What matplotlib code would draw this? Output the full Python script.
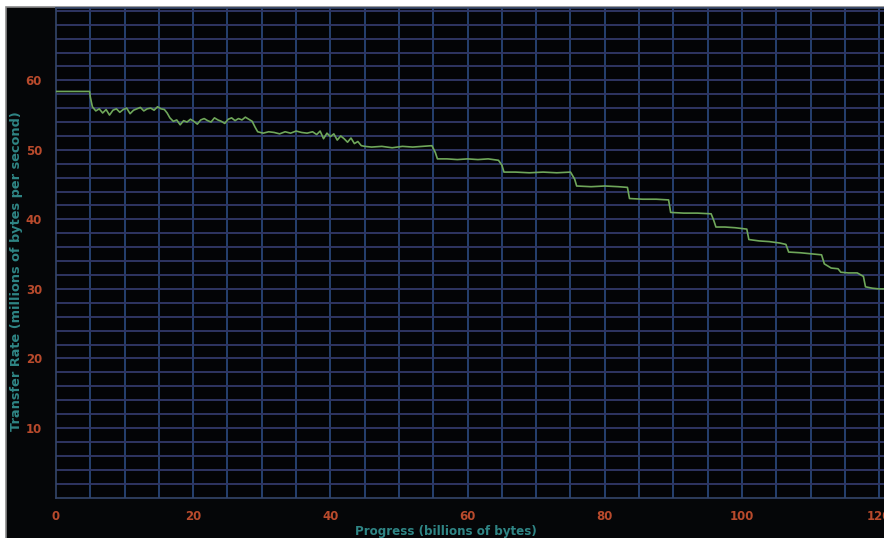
import matplotlib
matplotlib.use("Agg")
import matplotlib.pyplot as plt
from matplotlib.patches import Rectangle

# transfer rate trace (billions of bytes, MB/s)
progress = [
    0.0, 2.0, 4.9, 5.0, 5.3,
    5.8, 6.3, 6.8, 7.3, 7.8, 8.3, 8.8, 9.3, 9.8, 10.3, 10.8, 11.3, 11.8,
    12.3, 12.8, 13.3, 13.8, 14.3, 14.8, 15.3, 15.8, 16.2,
    16.6, 17.1, 17.6, 18.1, 18.6, 19.1, 19.6, 20.1, 20.6, 21.1, 21.6,
    22.1, 22.6, 23.1, 23.6, 24.1, 24.6, 25.1, 25.6, 26.1, 26.6, 27.1,
    27.6, 28.1, 28.6, 29.0,
    29.4, 30.2, 31.0, 31.8, 32.6, 33.4, 34.2, 35.0, 35.8, 36.6, 37.4,
    38.0, 38.5, 39.0, 39.5, 40.0, 40.5, 41.0, 41.5, 42.0, 42.5, 43.0,
    43.5, 44.0, 44.5, 45.0,
    46.0, 47.5, 49.0, 50.5, 52.0, 53.5, 54.8, 55.3, 55.6,
    57.0, 58.5, 60.0, 61.5, 63.0, 64.5, 65.0, 65.3,
    67.0, 69.0, 71.0, 73.0, 75.0, 75.6, 75.9,
    78.0, 80.0, 82.0, 83.3, 83.6,
    85.5, 87.5, 89.3, 89.6,
    91.5, 93.5, 95.5, 95.9, 96.2,
    97.5, 99.0, 100.7, 101.0,
    102.5, 104.0, 105.5, 106.4, 106.8,
    108.5, 110.5, 111.6, 112.0,
    113.0, 114.0, 114.4, 115.5, 116.8, 117.7, 118.0,
    119.0, 120.0, 121.0,
]
rate = [
    58.4, 58.4, 58.4, 57.6, 56.2,
    55.6, 55.9, 55.3, 55.8, 55.0, 55.7, 55.9, 55.4, 55.8, 56.0, 55.2, 55.7, 55.9,
    56.1, 55.6, 55.9, 56.0, 55.7, 56.2, 55.9, 55.8, 55.3,
    54.6, 54.1, 54.3, 53.6, 54.2, 54.0, 54.4, 54.1, 53.7, 54.3, 54.5,
    54.2, 54.0, 54.6, 54.3, 54.1, 53.8, 54.4, 54.6, 54.2, 54.5, 54.3,
    54.7, 54.4, 54.1, 53.3,
    52.6, 52.4, 52.6, 52.5, 52.3, 52.6, 52.4, 52.7, 52.5, 52.4, 52.6,
    52.2, 52.7, 51.6, 52.4, 51.9, 52.3, 51.4, 52.0, 51.6, 51.1, 51.7,
    50.9, 51.2, 50.6, 50.5,
    50.4, 50.5, 50.3, 50.5, 50.4, 50.5, 50.6, 49.6, 48.7,
    48.7, 48.6, 48.7, 48.6, 48.7, 48.5, 47.8, 46.8,
    46.8, 46.7, 46.8, 46.7, 46.8, 45.8, 44.8,
    44.7, 44.8, 44.7, 44.6, 43.0,
    42.9, 42.9, 42.8, 41.0,
    40.9, 40.9, 40.8, 39.8, 38.9,
    38.9, 38.8, 38.6, 37.1,
    36.9, 36.8, 36.6, 36.4, 35.3,
    35.2, 35.0, 34.9, 33.6,
    33.0, 32.9, 32.4, 32.3, 32.3, 31.8, 30.3,
    30.1, 30.0, 30.0,
]

x_ticks = [0, 20, 40, 60, 80, 100, 120]
y_ticks = [10, 20, 30, 40, 50, 60]

W, H = 884, 538
fig = plt.figure(figsize=(W / 100, H / 100), dpi=100, facecolor="white")

# dark panel with thin grey frame, white strip on top/left like the screenshot
panel = Rectangle((6 / W, -0.01), 1.0, 1 - 7 / H + 0.01,
                  transform=fig.transFigure, facecolor="#050608",
                  edgecolor="#8a8a8a", linewidth=1.2, zorder=-5)
fig.patches.append(panel)

ax = fig.add_axes([56 / W, 1 - 497.5 / H, (884 - 56) / W, (497.5 - 8) / H])
ax.set_zorder(2)
ax.set_facecolor("#030406")
ax.set_xlim(0, 120.7)
ax.set_ylim(0, 70.4)

# grid: verticals every 5, horizontals every 2
for gx in range(5, 125, 5):
    ax.axvline(gx, color="#25406e", linewidth=1.4, zorder=1)
for gy in range(2, 72, 2):
    ax.axhline(gy, color="#2f3562", linewidth=1.4, zorder=1)

ax.plot(progress, rate, color="#6fa75a", linewidth=1.2, zorder=3)

for s in ax.spines.values():
    s.set_color("#34466a")
    s.set_linewidth(1.2)
ax.spines["right"].set_visible(False)

ax.set_xticks(x_ticks)
ax.set_yticks(y_ticks)
ax.tick_params(length=0, colors="#b84a2c", labelsize=8.5)
for lab in ax.get_xticklabels() + ax.get_yticklabels():
    lab.set_fontweight("bold")
ax.tick_params(axis="y", pad=10)
ax.tick_params(axis="x", pad=9)

fig.text(446 / W, 1 - 531 / H, "Progress (billions of bytes)", color="#2f8585",
         fontsize=8.6, fontweight="bold", ha="center", va="center", zorder=3)
fig.text(17 / W, 1 - 271 / H, "Transfer Rate (millions of bytes per second)",
         color="#2f8585", fontsize=9.3, fontweight="bold", rotation=90,
         ha="center", va="center", zorder=3)

fig.savefig("out.png", dpi=100, facecolor=fig.get_facecolor())
